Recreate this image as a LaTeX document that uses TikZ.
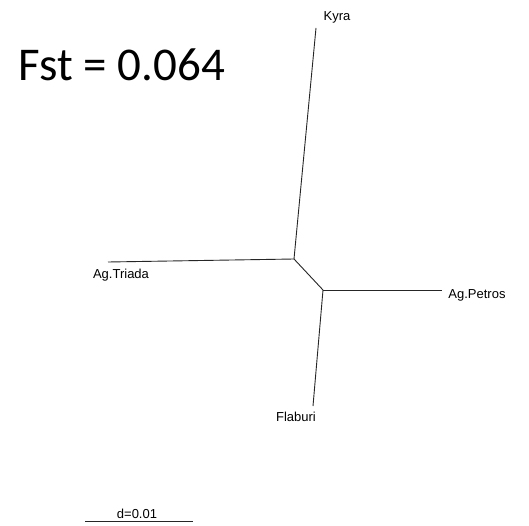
\documentclass[tikz,border=0pt]{standalone}
\usepackage{fontspec}
\setmainfont{Liberation Sans}
\newfontfamily\fstfont{Carlito}
\begin{document}
\begin{tikzpicture}[x=1pt,y=-1pt,
  branch/.style={draw=black!85,line width=0.9pt},
  leaflabel/.style={font=\fontsize{13}{15}\selectfont,inner sep=0pt}]
\useasboundingbox[fill=white] (0,0) rectangle (529,526);
\coordinate (A) at (294,259);
\coordinate (B) at (323,290);
\coordinate (kyra) at (316,28);
\coordinate (triada) at (108,262);
\coordinate (petros) at (442,290);
\coordinate (flaburi) at (313,406);
\draw[branch] (A) -- (kyra);
\draw[branch] (A) -- (triada);
\draw[branch] (A) -- (B);
\draw[branch] (B) -- (petros);
\draw[branch] (B) -- (flaburi);
\node[leaflabel] (lk) at (337,17) {Kyra};
\node[leaflabel] (lt) at (121,275) {Ag.Triada};
\node[leaflabel] (lp) at (477,295) {Ag.Petros};
\node[leaflabel] (lf) at (296,417) {Flaburi};
\coordinate (s1) at (85,521);
\coordinate (s2) at (193,521);
\draw[branch] (s1) -- (s2);
\node[leaflabel] (ld) at (137,514) {d=0.01};
\node[inner sep=0pt,font=\fstfont\fontsize{47}{50}\selectfont] (fst) at (122,65) {Fst = 0.064};
\end{tikzpicture}
\end{document}
